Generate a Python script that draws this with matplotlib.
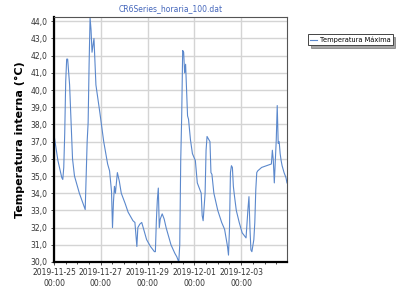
import numpy as np
import pandas as pd
import matplotlib
matplotlib.use('Agg')
import matplotlib.pyplot as plt
import matplotlib.dates as mdates
from matplotlib.ticker import MultipleLocator, FuncFormatter

# hours since 2019-11-25 00:00 and maximum internal temperature (°C)
hours = [0, 4, 8, 9, 10, 11, 12, 13, 14, 16, 18, 19, 21, 26, 32, 33, 34, 35, 36, 37,
         38, 39, 41, 43, 47, 51, 55, 57, 59, 60, 61, 62, 63, 65, 67, 69, 73, 76,
         81, 83, 84, 85, 86, 88, 90, 92, 95, 99, 103, 104, 105, 106, 107, 108, 109,
         111, 113, 115, 120, 124, 126, 128, 129, 130, 131, 132, 133, 134, 135, 136,
         137, 138, 140, 142, 145, 147, 151, 152, 153, 155, 156, 157, 158, 160, 161,
         162, 164, 168, 172, 175, 178, 179, 180, 181, 182, 183, 184, 185, 187, 190,
         193, 197, 199, 200, 201, 202, 203, 205, 206, 207, 208, 209, 213, 218, 223,
         224, 225, 226, 227, 228, 229, 230, 231, 232, 233, 234, 236, 238, 239]
temp_max = [37.4, 35.9, 34.9, 34.8, 35.5, 37.5, 40.5, 41.8, 41.8, 40.3, 37.5, 36.0, 35.0,
            34.0, 33.05, 35.0, 37.0, 38.1, 41.5, 44.2, 43.5, 42.2, 43.0, 40.3, 38.7, 37.0,
            35.7, 35.3, 34.1, 32.0, 33.5, 34.4, 34.0, 35.2, 34.7, 34.0, 33.4, 32.9, 32.4,
            32.3, 31.6, 30.9, 32.0, 32.2, 32.3, 31.9, 31.3, 30.9, 30.6, 30.6, 32.4, 33.6,
            34.3, 32.0, 32.5, 32.8, 32.5, 32.0, 31.0, 30.5, 30.3, 30.0, 31.0, 35.9, 38.5,
            42.3, 42.2, 41.0, 41.5, 40.0, 38.5, 38.3, 37.1, 36.3, 35.9, 34.6, 34.0, 32.7,
            32.4, 34.0, 36.5, 37.3, 37.2, 37.0, 35.2, 35.1, 34.0, 33.0, 32.3, 31.9, 30.9,
            30.4, 31.9, 35.2, 35.6, 35.5, 34.4, 33.9, 33.0, 32.3, 31.7, 31.4, 33.1, 33.8,
            32.0, 30.7, 30.6, 31.3, 32.3, 34.2, 35.2, 35.3, 35.5, 35.6, 35.7, 36.5, 35.9,
            34.6, 35.8, 37.1, 39.1, 36.9, 37.0, 36.3, 35.9, 35.6, 35.2, 34.9, 34.6]

start = pd.Timestamp('2019-11-25 00:00')
times = start + pd.to_timedelta(hours, unit='h')

fig = plt.figure(figsize=(4.07, 2.91), dpi=100)
ax = fig.add_axes([0.1327, 0.0997, 0.5724, 0.8419])

ax.plot(times, temp_max, color='#5b88cc', lw=0.8, label='Temperatura Máxima')

ax.set_xlim(times[0], times[-1])
ax.set_ylim(30, 44.25)
ax.yaxis.set_major_locator(MultipleLocator(1))
ax.yaxis.set_major_formatter(FuncFormatter(lambda v, p: f'{v:.1f}'.replace('.', ',')))
ax.xaxis.set_major_locator(mdates.DayLocator(interval=2))
ax.xaxis.set_minor_locator(mdates.HourLocator(byhour=[0, 12]))
ax.xaxis.set_major_formatter(mdates.DateFormatter('%Y-%m-%d\n%H:%M'))

ax.grid(True, color='#d4d4d4', lw=1)
ax.set_axisbelow(True)
ax.tick_params(labelsize=5.5, colors='#333333', length=2.5, width=0.6, pad=2)
ax.tick_params(which='minor', length=1.5, width=0.5)
for lab in ax.get_xticklabels():
    lab.set_horizontalalignment('center')

for s in ['left', 'bottom']:
    ax.spines[s].set_linewidth(1.6)
    ax.spines[s].set_color('black')
for s in ['top', 'right']:
    ax.spines[s].set_linewidth(0.8)
    ax.spines[s].set_color('#555555')

ax.set_ylabel('Temperatura interna (°C)', fontsize=8, fontweight='bold', labelpad=4)
fig.text(0.42, 0.972, 'CR6Series_horaria_100.dat', fontsize=5.5, color='#4466bb',
         ha='center', va='center')

leg = ax.legend(loc='upper left', bbox_to_anchor=(1.09, 0.93), fontsize=4.8,
                frameon=True, fancybox=False, shadow=True, handlelength=1.0,
                handletextpad=0.4, borderpad=0.35, borderaxespad=0,
                edgecolor='#444444')
leg.get_frame().set_linewidth(0.7)

fig.savefig('out.png', dpi=100)
